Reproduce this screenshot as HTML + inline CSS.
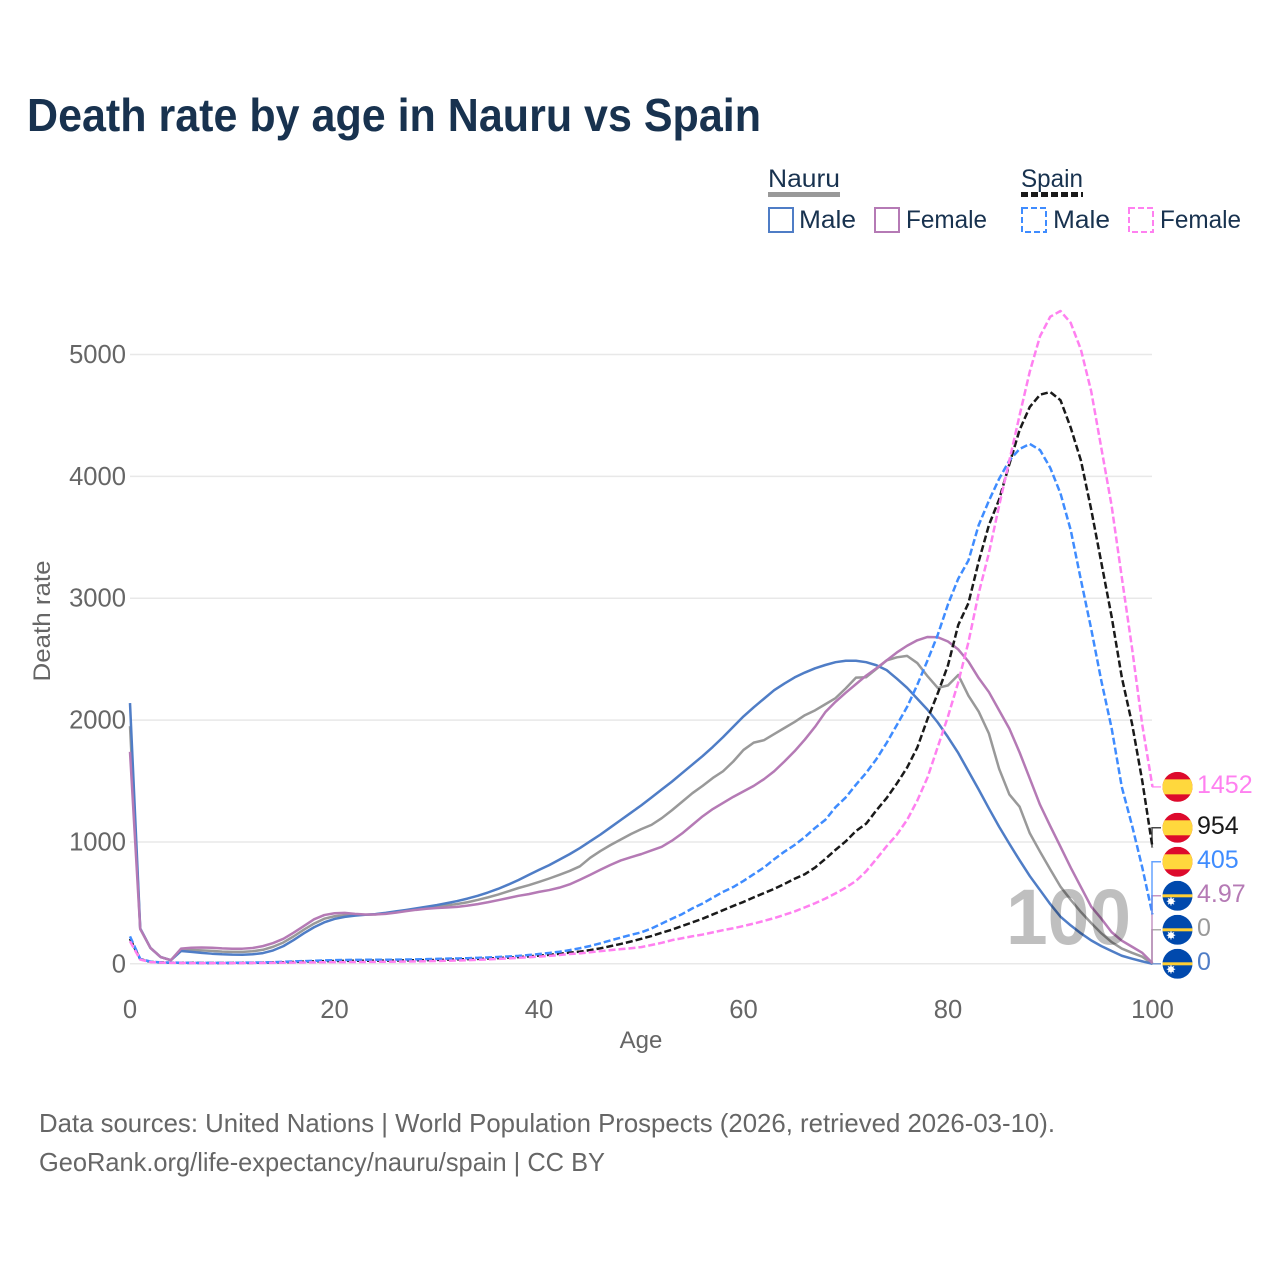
<!DOCTYPE html>
<html lang="en">
<head>
<meta charset="utf-8">
<title>Death rate by age in Nauru vs Spain</title>
<style>
html,body{margin:0;padding:0;background:#fff;width:1280px;height:1280px;overflow:hidden}
svg{display:block;font-family:"Liberation Sans",sans-serif}
</style>
</head>
<body>
<svg id="chart" width="1280" height="1280" viewBox="0 0 1280 1280" xmlns="http://www.w3.org/2000/svg">
  <rect x="0" y="0" width="1280" height="1280" fill="#fff"/>
  <text x="27" y="131" font-size="46" font-weight="700" fill="#18324f" textLength="734" lengthAdjust="spacingAndGlyphs">Death rate by age in Nauru vs Spain</text>

  <g font-size="25" fill="#18324f">
    <text x="768" y="187" textLength="72" lengthAdjust="spacingAndGlyphs">Nauru</text>
    <rect x="768" y="192" width="72" height="5" fill="#999"/>
    <text x="1021" y="187" textLength="62" lengthAdjust="spacingAndGlyphs">Spain</text>
    <line x1="1021" y1="194.5" x2="1083" y2="194.5" stroke="#1a1a1a" stroke-width="5" stroke-dasharray="7 3"/>
    <rect x="769" y="208" width="24" height="24" fill="none" stroke="#4f7dc6" stroke-width="2"/>
    <text x="799" y="228" textLength="57" lengthAdjust="spacingAndGlyphs">Male</text>
    <rect x="875" y="208" width="24" height="24" fill="none" stroke="#b57ab5" stroke-width="2"/>
    <text x="906" y="228" textLength="81" lengthAdjust="spacingAndGlyphs">Female</text>
    <rect x="1022" y="208" width="24" height="24" fill="none" stroke="#3f8cff" stroke-width="2" stroke-dasharray="6 3"/>
    <text x="1053" y="228" textLength="57" lengthAdjust="spacingAndGlyphs">Male</text>
    <rect x="1129" y="208" width="24" height="24" fill="none" stroke="#ff80f0" stroke-width="2" stroke-dasharray="6 3"/>
    <text x="1160" y="228" textLength="81" lengthAdjust="spacingAndGlyphs">Female</text>
  </g>

  <g id="grid"></g>
  <g id="yticks" font-size="25.6" fill="#666" text-anchor="end"></g>
  <g id="xticks" font-size="25.6" fill="#666" text-anchor="middle"></g>
  <text transform="translate(50,621) rotate(-90)" font-size="24" fill="#666" text-anchor="middle" textLength="121" lengthAdjust="spacingAndGlyphs">Death rate</text>
  <text x="641" y="1048" font-size="24" fill="#666" text-anchor="middle">Age</text>

  <g id="series" fill="none" stroke-width="2.5" stroke-linejoin="round"></g>
  <g id="endlabels"></g>
  <text x="1006" y="944" font-size="79" font-weight="700" fill="#000" fill-opacity="0.25" textLength="125" lengthAdjust="spacingAndGlyphs">100</text>

  <text x="39" y="1132" font-size="26" fill="#666" textLength="1016" lengthAdjust="spacingAndGlyphs">Data sources: United Nations | World Population Prospects (2026, retrieved 2026-03-10).</text>
  <text x="39" y="1171" font-size="26" fill="#666" textLength="566" lengthAdjust="spacingAndGlyphs">GeoRank.org/life-expectancy/nauru/spain | CC BY</text>
</svg>
<script>
const xTicks = [0, 20, 40, 60, 80, 100];
const yTicks = [0, 1000, 2000, 3000, 4000, 5000];
const nauruBoth = [
  1950,288,130,55,30,115,113,110,106,100,
  98,98,103,115,140,175,225,280,330,370,
  390,400,403,403,406,414,425,437,449,460,
  470,480,491,505,524,545,568,595,622,645,
  672,700,730,762,800,870,925,975,1020,1065,
  1105,1140,1195,1260,1330,1400,1460,1525,1580,1660,
  1755,1815,1835,1885,1935,1985,2040,2080,2130,2180,
  2260,2348,2352,2420,2490,2515,2527,2468,2360,2264,
  2285,2370,2200,2070,1890,1600,1390,1289,1071,920,
  775,633,525,425,335,250,178,125,90,58,
  0];
const nauruMale = [
  2140,290,130,55,30,105,98,90,83,78,
  75,74,78,88,110,145,195,250,300,340,
  368,385,395,402,408,418,430,442,455,468,
  482,498,515,535,558,585,615,650,688,730,
  771,810,855,900,950,1005,1060,1120,1180,1240,
  1300,1365,1430,1495,1565,1635,1705,1780,1860,1945,
  2030,2105,2175,2245,2300,2350,2390,2425,2452,2475,
  2487,2487,2475,2450,2410,2340,2265,2175,2085,1980,
  1860,1730,1580,1430,1275,1125,985,850,720,605,
  490,387,315,250,192,145,105,66,42,20,
  0];
const nauruFemale = [
  1740,285,130,55,30,125,132,134,132,127,
  124,124,130,145,170,205,255,310,365,400,
  415,418,410,405,405,410,420,432,443,452,
  458,462,467,477,490,505,522,540,558,572,
  590,605,625,652,690,730,772,812,848,875,
  900,930,960,1010,1070,1140,1210,1270,1320,1370,
  1415,1460,1515,1580,1660,1745,1840,1945,2065,2150,
  2225,2295,2365,2425,2490,2555,2610,2655,2682,2680,
  2645,2580,2480,2345,2230,2080,1930,1735,1520,1305,
  1130,961,790,630,470,370,260,190,140,90,
  4.97];
const spainBoth = [
  205,38,16,11,9,8,8,7,7,7,
  7,8,8,9,11,13,15,18,20,22,
  23,24,25,25,26,26,27,28,29,30,
  32,34,36,38,40,43,47,51,55,61,
  67,74,82,92,100,112,127,145,163,183,
  205,228,255,280,310,340,370,405,440,475,
  508,545,580,615,655,698,735,790,860,935,
  1005,1090,1150,1260,1360,1480,1610,1775,2010,2220,
  2450,2780,2960,3300,3600,3810,4100,4380,4570,4670,
  4692,4625,4400,4130,3730,3290,2850,2350,1970,1500,
  954];
const spainMale = [
  225,40,18,12,10,9,8,8,8,8,
  8,9,10,11,13,16,19,22,25,28,
  30,31,32,33,33,33,34,35,36,38,
  40,42,44,46,49,52,56,60,65,72,
  80,89,99,112,128,146,168,192,215,238,
  258,290,330,370,408,455,495,543,590,630,
  680,735,790,858,920,975,1040,1115,1181,1285,
  1365,1470,1567,1680,1813,1960,2108,2290,2490,2700,
  2950,3160,3310,3600,3800,3980,4130,4225,4266,4216,
  4070,3860,3560,3150,2750,2320,1935,1450,1135,790,
  405];
const spainFemale = [
  185,35,14,10,8,7,6,6,6,6,
  6,6,7,7,8,9,10,11,12,13,
  14,14,15,15,16,17,18,19,20,21,
  23,25,27,30,33,36,40,44,49,54,
  59,65,72,80,86,95,104,112,120,128,
  137,154,172,194,210,226,240,258,276,292,
  310,330,352,375,402,430,463,497,535,578,
  625,680,760,860,965,1060,1181,1340,1530,1780,
  2030,2310,2640,3040,3370,3760,4130,4500,4860,5150,
  5310,5357,5260,5040,4700,4230,3760,3170,2590,1960,
  1452];

const NS = 'http://www.w3.org/2000/svg';
function xScale(age) { return 130 + age * 10.225; }
function yScale(v) { return 963.8 - v * 0.12186; }
function make(tag, attrs, parent, text) {
  const el = document.createElementNS(NS, tag);
  for (const k in attrs) el.setAttribute(k, attrs[k]);
  if (text !== undefined) el.textContent = text;
  parent.appendChild(el);
  return el;
}

const grid = document.getElementById('grid');
const yG = document.getElementById('yticks');
const xG = document.getElementById('xticks');
yTicks.forEach(function (t) {
  const ln = make('line', {x1: 130, x2: 1152, y1: yScale(t), y2: yScale(t), stroke: '#e8e8e8', 'stroke-width': 1.5}, grid);
  
  
  const tx = make('text', {x: 126, y: yScale(t) + 8.5}, yG, String(t));
  
  
});
xTicks.forEach(function (t) {
  const tx = make('text', {x: xScale(t), y: 1018}, xG, String(t));
  
  
});

const seriesList = [
  {key: 'nauru-both', values: nauruBoth, color: '#999999', dash: '', flag: 'nauru', labelColor: '#999999'},
  {key: 'nauru-male', values: nauruMale, color: '#4f7dc6', dash: '', flag: 'nauru', labelColor: '#4f7dc6'},
  {key: 'nauru-female', values: nauruFemale, color: '#b57ab5', dash: '', flag: 'nauru', labelColor: '#b57ab5'},
  {key: 'spain-both', values: spainBoth, color: '#1a1a1a', dash: '7 3', flag: 'spain', labelColor: '#1a1a1a'},
  {key: 'spain-male', values: spainMale, color: '#3f8cff', dash: '7 3', flag: 'spain', labelColor: '#3f8cff'},
  {key: 'spain-female', values: spainFemale, color: '#ff80f0', dash: '7 3', flag: 'spain', labelColor: '#ff80f0'}
];

const sGroup = document.getElementById('series');
seriesList.forEach(function (s) {
  const d = s.values.map(function (v, i) {
    return (i ? 'L' : 'M') + xScale(i).toFixed(2) + ' ' + yScale(v).toFixed(2);
  }).join('');
  const attrs = {d: d, stroke: s.color};
  if (s.dash) attrs['stroke-dasharray'] = s.dash;
  const p = make('path', attrs, sGroup);
  
  
});

function drawFlag(parent, kind, cx, cy, key) {
  const g = make('g', {}, parent);
  
  
  const clipId = 'clip-' + key;
  const defs = make('defs', {}, g);
  const cp = make('clipPath', {id: clipId}, defs);
  make('circle', {cx: cx, cy: cy, r: 15}, cp);
  const inner = make('g', {'clip-path': 'url(#' + clipId + ')'}, g);
  if (kind === 'spain') {
    make('rect', {x: cx - 15, y: cy - 15, width: 30, height: 30, fill: '#dd0a2c'}, inner);
    make('rect', {x: cx - 15, y: cy - 7.5, width: 30, height: 15, fill: '#ffd83d'}, inner);
  } else {
    make('rect', {x: cx - 15, y: cy - 15, width: 30, height: 30, fill: '#0049ad'}, inner);
    make('rect', {x: cx - 15, y: cy - 1.5, width: 30, height: 3, fill: '#ffcf33'}, inner);
    make('circle', {cx: cx - 6.5, cy: cy + 5.5, r: 3, fill: '#fff'}, inner);
    const sx = cx - 6.5, sy = cy + 5.5;
    make('path', {d: 'M' + (sx - 4.2) + ' ' + sy + 'H' + (sx + 4.2) + 'M' + sx + ' ' + (sy - 4.2) + 'V' + (sy + 4.2) + 'M' + (sx - 3) + ' ' + (sy - 3) + 'L' + (sx + 3) + ' ' + (sy + 3) + 'M' + (sx + 3) + ' ' + (sy - 3) + 'L' + (sx - 3) + ' ' + (sy + 3), stroke: '#fff', 'stroke-width': 1}, inner);
  }
}

const order = [1, 0, 2, 4, 3, 5];
const eGroup = document.getElementById('endlabels');
let lastY = Infinity;
order.slice().sort(function (a, b) {
  const va = seriesList[a].values[100], vb = seriesList[b].values[100];
  return va === vb ? order.indexOf(a) - order.indexOf(b) : va - vb;
}).forEach(function (idx) {
  const s = seriesList[idx];
  const v = s.values[100];
  const dataY = yScale(v);
  const labelY = Math.min(dataY, lastY - 34);
  lastY = labelY;
  const c = make('path', {d: 'M1152 ' + dataY.toFixed(1) + 'V' + labelY.toFixed(1) + 'H1161', fill: 'none', stroke: s.color, 'stroke-width': 1.5, 'stroke-opacity': 0.8}, eGroup);
  
  
  drawFlag(eGroup, s.flag, 1177.5, labelY, s.key);
  const t = make('text', {x: 1197, y: labelY + 6, 'font-size': 25, fill: s.labelColor}, eGroup, String(v));
  
  
});
</script>
</body>
</html>
